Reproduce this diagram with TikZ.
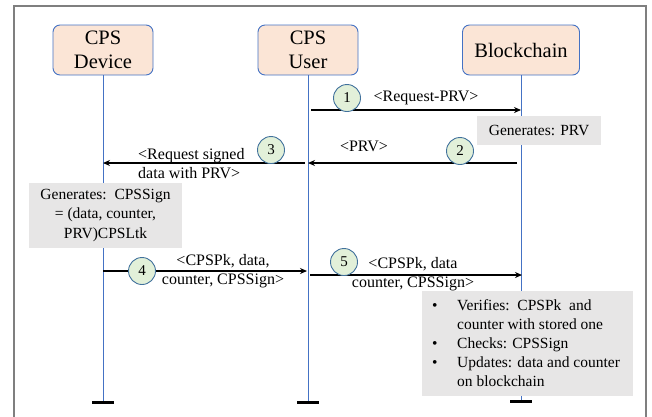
\documentclass[tikz,border=0pt]{standalone}
\usepackage{fontspec}
\setmainfont{Liberation Serif}
\newfontfamily\tnr{Liberation Serif}
\usetikzlibrary{arrows.meta}
\definecolor{peach}{HTML}{FBE5D6}
\definecolor{lblue}{HTML}{4472C4}
\definecolor{cblue}{HTML}{41719C}
\definecolor{cgreen}{HTML}{E2F0D9}
\definecolor{gbox}{HTML}{E7E6E6}
\definecolor{framegray}{HTML}{7F7F7F}
\begin{document}
\begin{tikzpicture}[x=1pt,y=-1pt,
 actor/.style={draw=lblue, fill=peach, rounded corners=7pt, line width=0.9pt, minimum height=50pt, align=center, font=\tnr\fontsize{20.5}{24}\selectfont, inner sep=0pt},
 life/.style={draw=lblue, line width=0.9pt},
 endbar/.style={line width=3pt, black},
 msg/.style={line width=1.8pt, -{Stealth[length=7pt,width=6pt]}},
 num/.style={circle, draw=cblue, fill=cgreen, line width=0.9pt, minimum size=27pt, inner sep=0pt, font=\tnr\fontsize{15}{18}\selectfont},
 lbl/.style={font=\tnr\fontsize{16}{18.5}\selectfont, inner sep=0pt, align=center},
 graybox/.style={fill=gbox, inner sep=0pt, align=center, font=\tnr\fontsize{15.5}{19.5}\selectfont},
]
\useasboundingbox (0,0) rectangle (652,416);
\draw[framegray, line width=1.5pt] (14,430) -- (14,6) -- (646,6) -- (646,430);

% actors
\node[actor, minimum width=100pt] (dev) at (103,50) {CPS\\Device};
\node[actor, minimum width=100pt] (usr) at (308,50) {CPS\\User};
\node[actor, minimum width=117pt] (bc) at (521,50) {Blockchain};

% lifelines
\coordinate (devE) at (103,402);
\coordinate (usrE) at (308,402);
\coordinate (bcE) at (521,401);
\draw[life] (dev.south) -- (devE);
\draw[life] (usr.south) -- (usrE);
\draw[life] (bc.south) -- (bcE);
\draw[endbar] ([xshift=-11pt]devE) -- ([xshift=11pt]devE);
\draw[endbar] ([xshift=-11pt]usrE) -- ([xshift=11pt]usrE);
\draw[endbar] ([xshift=-11pt]bcE) -- ([xshift=11pt]bcE);

% message 1
\coordinate (m1s) at (311,110);
\coordinate (m1e) at (521,110);
\draw[msg] (m1s) -- (m1e);
\node[num] (n1) at (347,98) {1};
\node[lbl] (t1) at (426,98) {<Request-PRV>};

% generates PRV
\node[graybox, minimum width=124pt, minimum height=29pt] (g1) at (539,130.5) {Generates: PRV};

% message 2
\coordinate (m2s) at (517,163);
\coordinate (m2e) at (308,163);
\draw[msg] (m2s) -- (m2e);
\node[num] (n2) at (460,151) {2};
\node[lbl] (t2) at (364,146) {<PRV>};

% message 3
\coordinate (m3s) at (305,163);
\coordinate (m3e) at (103,163);
\draw[msg] (m3s) -- (m3e);
\node[num] (n3) at (271,150) {3};
\node[lbl, align=left, anchor=west, font=\tnr\fontsize{16}{19}\selectfont] (t3) at (138,163.5) {<Request signed\\data with PRV>};

% generates CPSSign
\node[graybox, minimum width=153pt, minimum height=65pt] (g2) at (105.5,215.5) {Generates:\ \ CPSSign\\= (data, counter,\\PRV)CPSLtk};

% message 4
\coordinate (m4s) at (103,271);
\coordinate (m4e) at (307,271);
\draw[msg] (m4s) -- (m4e);
\node[num] (n4) at (142,271) {4};
\node[lbl] (t4) at (223,271) {<CPSPk, data,\\counter, CPSSign>};

% message 5
\coordinate (m5s) at (310,275);
\coordinate (m5e) at (522,275);
\draw[msg] (m5s) -- (m5e);
\node[num] (n5) at (344,262) {5};
\node[lbl] (t5) at (413,274) {<CPSPk, data\\counter, CPSSign>};

% verification box
\node[graybox, minimum width=211pt, minimum height=105pt, anchor=north west] (g3) at (422,291) {};
\node[anchor=west, inner sep=0pt, align=left, font=\tnr\fontsize{15.5}{19}\selectfont] (t6) at (432,343.5) {%
\makebox[25pt][l]{•}Verifies:\ \ CPSPk\ \ and\\
\makebox[25pt][l]{}counter with stored one\\
\makebox[25pt][l]{•}Checks: CPSSign\\
\makebox[25pt][l]{•}Updates: data and counter\\
\makebox[25pt][l]{}on blockchain};
\end{tikzpicture}
\end{document}
